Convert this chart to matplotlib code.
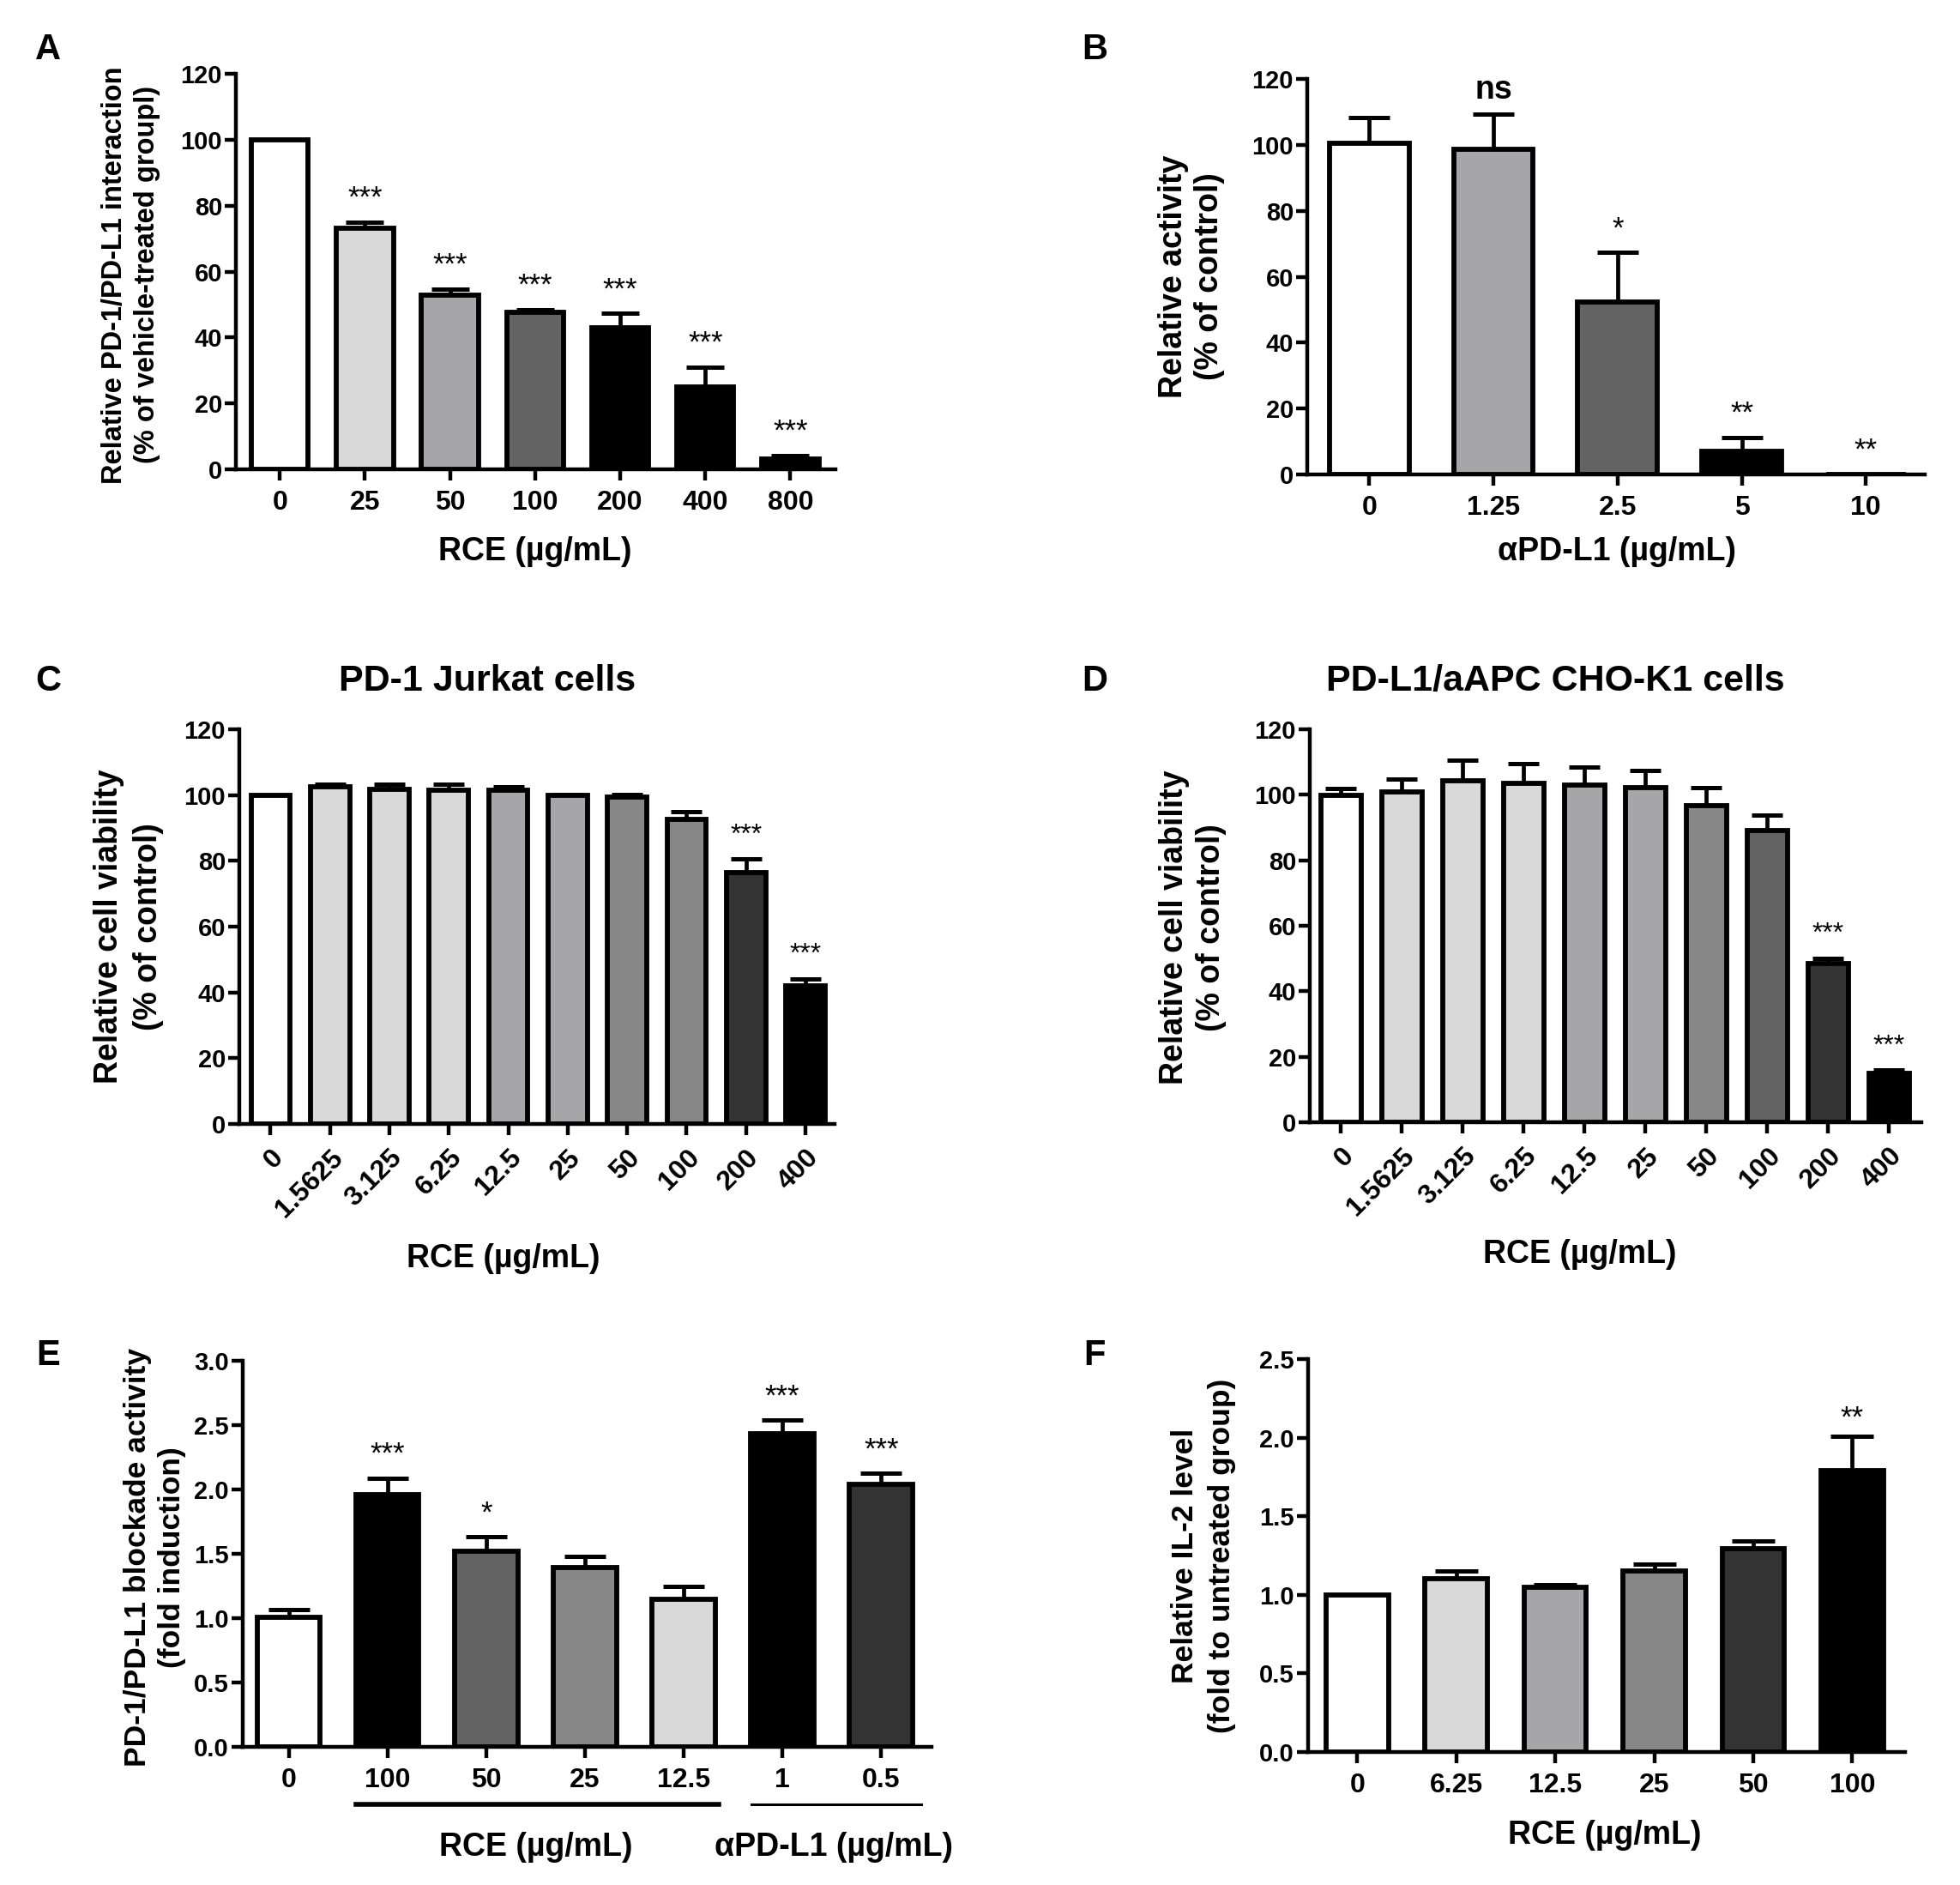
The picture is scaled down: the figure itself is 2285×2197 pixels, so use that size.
import numpy as np
import matplotlib.pyplot as plt

plt.rcParams['font.family'] = ['Liberation Sans', 'DejaVu Sans']
plt.rcParams['font.weight'] = 'bold'
plt.rcParams['axes.labelweight'] = 'bold'
plt.rcParams['axes.linewidth'] = 3.2
plt.rcParams['xtick.major.width'] = 3.2
plt.rcParams['ytick.major.width'] = 3.2
plt.rcParams['xtick.major.size'] = 9.5
plt.rcParams['ytick.major.size'] = 9.5

WHITE, LIGHT, MID, GRAY, DARK, DARKER, BLACK = (
    '#ffffff', '#d9d9d9', '#a6a6a9', '#878787', '#636363', '#333333', '#000000')

# A: PD-1/PD-L1 interaction vs RCE
a_doses = ['0', '25', '50', '100', '200', '400', '800']
a_mean = [100, 73.2, 52.8, 47.6, 43.0, 25.0, 3.1]
a_err = [0, 1.8, 1.8, 0.8, 4.3, 6.0, 1.0]
a_colors = [WHITE, LIGHT, MID, DARK, BLACK, BLACK, BLACK]
a_stars = ['', '***', '***', '***', '***', '***', '***']

# B: relative activity vs aPD-L1
b_doses = ['0', '1.25', '2.5', '5', '10']
b_mean = [100.5, 98.7, 52.4, 7.0, 0]
b_err = [7.8, 10.7, 14.9, 4.2, 0]
b_colors = [WHITE, MID, DARK, BLACK, BLACK]
b_stars = ['', 'ns', '*', '**', '**']

# C: PD-1 Jurkat cells viability
c_doses = ['0', '1.5625', '3.125', '6.25', '12.5', '25', '50', '100', '200', '400']
c_mean = [100, 102.5, 101.8, 101.4, 101.4, 100, 99.3, 92.6, 76.5, 42.0]
c_err = [0, 0.9, 1.6, 2.0, 1.1, 0.3, 1.0, 2.3, 4.1, 2.2]
c_colors = [WHITE, LIGHT, LIGHT, LIGHT, MID, MID, GRAY, GRAY, DARKER, BLACK]
c_stars = ['', '', '', '', '', '', '', '', '***', '***']

# D: PD-L1/aAPC CHO-K1 cells viability
d_doses = c_doses
d_mean = [99.9, 100.8, 104.2, 103.5, 103.1, 102.2, 96.6, 89.1, 48.4, 15.0]
d_err = [1.9, 3.9, 6.3, 6.1, 5.5, 5.1, 5.5, 4.7, 1.7, 0.9]
d_colors = [WHITE, LIGHT, LIGHT, LIGHT, MID, MID, GRAY, DARK, DARKER, BLACK]
d_stars = ['', '', '', '', '', '', '', '', '***', '***']

# E: PD-1/PD-L1 blockade activity
e_doses = ['0', '100', '50', '25', '12.5', '1', '0.5']
e_mean = [1.007, 1.96, 1.517, 1.395, 1.15, 2.432, 2.04]
e_err = [0.058, 0.13, 0.116, 0.085, 0.098, 0.11, 0.087]
e_colors = [WHITE, BLACK, DARK, GRAY, LIGHT, BLACK, DARKER]
e_stars = ['', '***', '*', '', '', '***', '***']

# F: IL-2 level
f_doses = ['0', '6.25', '12.5', '25', '50', '100']
f_mean = [1.0, 1.10, 1.05, 1.15, 1.295, 1.79]
f_err = [0, 0.05, 0.015, 0.045, 0.05, 0.22]
f_colors = [WHITE, LIGHT, MID, GRAY, DARKER, BLACK]
f_stars = ['', '', '', '', '', '**']

W, H = 2285, 2197
fig = plt.figure(figsize=(W / 100, H / 100), dpi=100)


def px_axes(left, right, bottom, top):
    return fig.add_axes([left / W, 1 - bottom / H, (right - left) / W, (bottom - top) / H])


def bar_panel(ax, labels, mean, err, colors, stars, ymax, ystep, fmt, xlim,
              width=0.66, capsize=15, rot=0, star_off=0.06, star_size=25):
    x = np.arange(len(labels))
    ax.bar(x, mean, width=width, color=colors, edgecolor='black', linewidth=4.2, zorder=3)
    ax.errorbar(x, mean, yerr=[np.zeros(len(err)), err], fmt='none', ecolor='black',
                elinewidth=3.4, capsize=capsize, capthick=3.6, zorder=2)
    for xi, m, e, s in zip(x, mean, err, stars):
        if s:
            ax.text(xi, m + e + star_off * ymax, s, ha='center', va='center',
                    fontsize=star_size if s != 'ns' else 27,
                    fontweight='normal' if s != 'ns' else 'bold')
    ax.set_xlim(*xlim)
    ax.set_ylim(0, ymax)
    yt = np.arange(0, ymax + ystep / 2, ystep)
    ax.set_yticks(yt)
    ax.set_yticklabels([fmt.format(v) for v in yt], fontsize=21)
    ax.set_xticks(x)
    if rot:
        ax.set_xticklabels(labels, fontsize=23, rotation=rot, ha='right', va='top',
                           rotation_mode='anchor')
    else:
        ax.set_xticklabels(labels, fontsize=23)
    ax.spines['top'].set_visible(False)
    ax.spines['right'].set_visible(False)
    ax.tick_params(axis='y', pad=2)
    ax.tick_params(axis='x', pad=8)


def set_labels(ax, xlabel, xpos, ylabel, ypos, yfs=26, ls=1.35):
    ax.set_xlabel(xlabel, fontsize=27)
    ax.xaxis.set_label_coords(*xpos)
    ax.xaxis.label.set_va('center')
    ax.set_ylabel(ylabel, fontsize=yfs, linespacing=ls)
    ax.yaxis.set_label_coords(*ypos)
    ax.yaxis.label.set_va('center')


rce = 'RCE (\u00b5g/mL)'
apd = '\u03b1PD-L1 (\u00b5g/mL)'

# A
axA = px_axes(275, 974, 547, 86)
bar_panel(axA, a_doses, a_mean, a_err, a_colors, a_stars, 120, 20, '{:.0f}',
          (-0.516, 6.53), width=0.67, capsize=16)
set_labels(axA, rce, (0.499, -0.208),
           'Relative PD-1/PD-L1 interaction\n(% of vehicle-treated groupl)', (-0.175, 0.492),
           yfs=23.5, ls=1.3)

# B
axB = px_axes(1524, 2244, 553, 92)
bar_panel(axB, b_doses, b_mean, b_err, b_colors, b_stars, 120, 20, '{:.0f}',
          (-0.5, 4.475), width=0.64, capsize=17)
set_labels(axB, apd, (0.501, -0.195), 'Relative activity\n(% of control)', (-0.188, 0.5),
           yfs=27, ls=1.22)

# C
axC = px_axes(279, 973, 1310, 850)
bar_panel(axC, c_doses, c_mean, c_err, c_colors, c_stars, 120, 20, '{:.0f}',
          (-0.525, 9.49), width=0.66, capsize=13, rot=45, star_size=23)
set_labels(axC, rce, (0.444, -0.341), 'Relative cell viability\n(% of control)', (-0.186, 0.5),
           yfs=27, ls=1.35)

# D
axD = px_axes(1527, 2240, 1308, 850)
bar_panel(axD, d_doses, d_mean, d_err, d_colors, d_stars, 120, 20, '{:.0f}',
          (-0.51, 9.53), width=0.66, capsize=13, rot=45, star_size=23)
set_labels(axD, rce, (0.442, -0.336), 'Relative cell viability\n(% of control)', (-0.192, 0.496),
           yfs=27, ls=1.25)

# E
axE = px_axes(283, 1086, 2036, 1586)
bar_panel(axE, e_doses, e_mean, e_err, e_colors, e_stars, 3.0, 0.5, '{:.1f}',
          (-0.465, 6.51), width=0.64, capsize=17)
axE.set_ylabel('PD-1/PD-L1 blockade activity\n(fold induction)', fontsize=25.5, linespacing=1.28)
axE.yaxis.set_label_coords(-0.128, 0.491)
axE.yaxis.label.set_va('center')
tr = axE.get_xaxis_transform()
axE.plot([0.68, 4.36], [-0.149, -0.149], transform=tr, clip_on=False, color='black', lw=4)
axE.plot([4.69, 6.41], [-0.149, -0.149], transform=tr, clip_on=False, color='black', lw=2.2)
axE.text(2.5, -0.26, rce, transform=tr, ha='center', va='center', fontsize=27)
axE.text(5.52, -0.26, apd, transform=tr, ha='center', va='center', fontsize=27)

# F
axF = px_axes(1525, 2221, 2042, 1584)
bar_panel(axF, f_doses, f_mean, f_err, f_colors, f_stars, 2.5, 0.5, '{:.1f}',
          (-0.496, 5.534), width=0.63, capsize=18, star_off=0.045)
set_labels(axF, rce, (0.497, -0.212), 'Relative IL-2 level\n(fold to untreated group)',
           (-0.175, 0.5), yfs=25.5, ls=1.4)

# panel letters and titles
for letter, (lx, ly) in zip('ABCDEF', [(56, 58), (1276, 58), (56, 794), (1276, 794),
                                       (56, 1580), (1276, 1580)]):
    fig.text(lx / W, 1 - ly / H, letter, fontsize=30, ha='center', va='center')
fig.text(568 / W, 1 - 794 / H, 'PD-1 Jurkat cells', fontsize=31, ha='center', va='center')
fig.text(1813 / W, 1 - 794 / H, 'PD-L1/aAPC CHO-K1 cells', fontsize=31, ha='center', va='center')

fig.savefig('out.png', dpi=100)
